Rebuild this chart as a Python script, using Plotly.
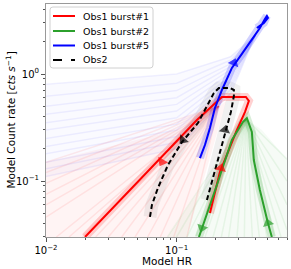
import plotly.graph_objects as go

# ---------------- data ----------------
# Obs1 burst#1 (red)
red_x = [0.1799, 0.2144, 0.2512, 0.2893, 0.3334, 0.3574, 0.3390, 0.2222, 0.1430, 0.0889, 0.0524, 0.0199]
red_y = [0.0502, 0.121, 0.195, 0.300, 0.441, 0.560, 0.610, 0.610, 0.372, 0.203, 0.102, 0.030]
# Obs1 burst#2 (green)
green_x = [0.5358, 0.500, 0.4339, 0.390, 0.3767, 0.345, 0.3216, 0.2649, 0.2034, 0.1563, 0.1482]
green_y = [0.030, 0.0405, 0.0824, 0.157, 0.287, 0.388, 0.356, 0.242, 0.0918, 0.0348, 0.030]
# Obs1 burst#5 (blue)
blue_x = [0.1508, 0.1647, 0.1799, 0.1964, 0.2222, 0.2649, 0.3160, 0.3767, 0.4339, 0.474, 0.4909, 0.500, 0.4656, 0.4115]
blue_y = [0.164, 0.217, 0.313, 0.481, 0.709, 1.14, 1.54, 2.08, 2.69, 3.27, 3.48, 3.34, 3.00, 2.69]
# Obs2 (black dashed)
obs2_x = [0.1706, 0.1895, 0.2144, 0.2385, 0.2603, 0.2744, 0.2744, 0.2557, 0.2107, 0.1929, 0.1455, 0.1098, 0.0858, 0.0719, 0.0647, 0.0625]
obs2_y = [0.0664, 0.1066, 0.175, 0.287, 0.441, 0.623, 0.709, 0.740, 0.740, 0.664, 0.348, 0.231, 0.141, 0.0860, 0.0597, 0.0461]

# direction arrows: (previous point, tip)
red_arrows = [((0.0889, 0.203), (0.0773, 0.151)), ((0.1799, 0.0502), (0.2182, 0.132))]
green_arrows = [((0.2034, 0.0918), (0.1563, 0.0364)), ((0.5358, 0.030), (0.500, 0.0405))]
blue_arrows = [((0.2649, 1.14), (0.2744, 1.27))]
obs2_arrows = [((0.2144, 0.175), (0.2343, 0.300)), ((0.1455, 0.348), (0.1117, 0.242))]

# faint sample tracks
blue_fan_x = [0.01, 0.1, 0.26, 0.40]
blue_fan_y = [
    [0.80, 1.00, 1.45, 2.3],
    [0.62, 0.82, 1.35, 2.3],
    [0.50, 0.70, 1.25, 2.3],
    [0.42, 0.60, 1.18, 2.3],
    [0.35, 0.52, 1.10, 2.3],
    [0.30, 0.45, 1.03, 2.3],
    [0.25, 0.39, 0.96, 2.3],
    [0.21, 0.34, 0.90, 2.3],
    [0.18, 0.30, 0.84, 2.3],
    [0.15, 0.26, 0.78, 2.3],
    [0.13, 0.23, 0.72, 2.3],
    [0.11, 0.20, 0.66, 2.3],
]
red_fan_start = (0.21, 0.50)
red_fan_end_x = [0.010, 0.010, 0.010, 0.010, 0.010, 0.010, 0.012, 0.015, 0.019, 0.024, 0.030, 0.038, 0.048, 0.060, 0.075, 0.095, 0.120]
red_fan_end_y = [0.150, 0.120, 0.095, 0.075, 0.060, 0.046, 0.030, 0.030, 0.030, 0.030, 0.030, 0.030, 0.030, 0.030, 0.030, 0.030, 0.030]
green_fan_start = (0.34, 0.38)
green_fan_end_x = [0.085, 0.10, 0.12, 0.14, 0.165, 0.19, 0.22, 0.25, 0.29, 0.33, 0.38, 0.43, 0.49, 0.56, 0.63, 0.70, 0.70, 0.70, 0.70]
green_fan_end_y = [0.030, 0.030, 0.030, 0.030, 0.030, 0.030, 0.030, 0.030, 0.030, 0.030, 0.030, 0.030, 0.030, 0.030, 0.030, 0.035, 0.060, 0.100, 0.160]

# haze envelopes of the sample clouds
blue_haze_x = [0.01, 0.10, 0.25, 0.40, 0.30, 0.18, 0.10, 0.01]
blue_haze_y = [0.80, 1.00, 1.45, 2.30, 0.95, 0.45, 0.20, 0.11]
red_haze_x = [0.01, 0.10, 0.20, 0.24, 0.16, 0.12, 0.01]
red_haze_y = [0.15, 0.30, 0.48, 0.56, 0.10, 0.03, 0.03]
green_haze_x = [0.085, 0.25, 0.34, 0.45, 0.70, 0.70]
green_haze_y = [0.030, 0.20, 0.38, 0.30, 0.16, 0.030]

# tick labels
x_tickvals = [0.01, 0.1]
x_ticktext = ["10<sup>−2</sup>", "10<sup>−1</sup>"]
y_tickvals = [0.1, 1]
y_ticktext = ["10<sup>−1</sup>", "10<sup>0</sup>"]
x_minor = [0.02, 0.03, 0.04, 0.05, 0.06, 0.07, 0.08, 0.09, 0.2, 0.3, 0.4, 0.5, 0.6, 0.7]
y_minor = [0.03, 0.04, 0.05, 0.06, 0.07, 0.08, 0.09, 0.2, 0.3, 0.4, 0.5, 0.6, 0.7, 0.8, 0.9, 2, 3, 4]

legend_labels = ["Obs1 burst#1", "Obs1 burst#2", "Obs1 burst#5", "Obs2"]

# ---------------- figure ----------------
RED, GREEN, BLUE, BLACK = "#ff0000", "#2ca02c", "#0000ff", "#000000"
RED_L, GREEN_L, BLUE_L = "rgba(255,0,0,0.08)", "rgba(44,160,44,0.08)", "rgba(0,0,255,0.06)"
FONT = "DejaVu Sans"

fig = go.Figure()

# haze
for hx, hy, c in [(blue_haze_x, blue_haze_y, "rgba(0,0,255,0.02)"),
                  (red_haze_x, red_haze_y, "rgba(255,0,0,0.045)"),
                  (green_haze_x, green_haze_y, "rgba(44,160,44,0.045)")]:
    fig.add_trace(go.Scatter(x=hx, y=hy, mode="lines", fill="toself", fillcolor=c, line=dict(width=0),
                             showlegend=False, hoverinfo="skip"))

# faint fans
for ys in blue_fan_y:
    fig.add_trace(go.Scatter(x=blue_fan_x, y=ys, mode="lines", line=dict(color=BLUE_L, width=1.5),
                             showlegend=False, hoverinfo="skip"))
for ex, ey in zip(red_fan_end_x, red_fan_end_y):
    fig.add_trace(go.Scatter(x=[red_fan_start[0], ex], y=[red_fan_start[1], ey], mode="lines",
                             line=dict(color=RED_L, width=1.5), showlegend=False, hoverinfo="skip"))
for ex, ey in zip(green_fan_end_x, green_fan_end_y):
    fig.add_trace(go.Scatter(x=[green_fan_start[0], ex], y=[green_fan_start[1], ey], mode="lines",
                             line=dict(color=GREEN_L, width=1.5), showlegend=False, hoverinfo="skip"))

# glows
for xs, ys, c, w in [(obs2_x, obs2_y, "rgba(0,0,0,0.06)", 13),
                     (red_x, red_y, "rgba(255,0,0,0.18)", 8), (green_x, green_y, "rgba(44,160,44,0.18)", 8),
                     (blue_x, blue_y, "rgba(0,0,255,0.18)", 8)]:
    fig.add_trace(go.Scatter(x=xs, y=ys, mode="lines", line=dict(color=c, width=w),
                             showlegend=False, hoverinfo="skip"))

# main tracks
fig.add_trace(go.Scatter(x=red_x, y=red_y, mode="lines", name=legend_labels[0], line=dict(color=RED, width=2)))
fig.add_trace(go.Scatter(x=green_x, y=green_y, mode="lines", name=legend_labels[1], line=dict(color=GREEN, width=2)))
fig.add_trace(go.Scatter(x=blue_x, y=blue_y, mode="lines", name=legend_labels[2], line=dict(color=BLUE, width=2)))
fig.add_trace(go.Scatter(x=obs2_x, y=obs2_y, mode="lines", name=legend_labels[3],
                         line=dict(color=BLACK, width=2, dash="5px,3px")))

# arrows
for arrows, c in [(red_arrows, RED), (green_arrows, GREEN), (blue_arrows, BLUE), (obs2_arrows, BLACK)]:
    for (p0, p1) in arrows:
        fig.add_trace(go.Scatter(x=[p0[0], p1[0]], y=[p0[1], p1[1]], mode="markers",
                                 marker=dict(symbol="triangle-up", size=[0, 10], color=c, angleref="previous",
                                             line=dict(width=0)),
                                 showlegend=False, hoverinfo="skip"))

# ---------- manual legend (matplotlib-like) ----------
PLOT_L, PLOT_R, PLOT_T, PLOT_B = 46, 287, 4, 237
def px(xp):
    return (xp - PLOT_L) / (PLOT_R - PLOT_L)
def py(yp):
    return (PLOT_B - yp) / (PLOT_B - PLOT_T)

bx0, bx1, by0, by1, r = px(50), px(153), py(68), py(7), 0.012
ry = r * (PLOT_R - PLOT_L) / (PLOT_B - PLOT_T)
path = (f"M {bx0+r},{by1} L {bx1-r},{by1} Q {bx1},{by1} {bx1},{by1-ry} L {bx1},{by0+ry} "
        f"Q {bx1},{by0} {bx1-r},{by0} L {bx0+r},{by0} Q {bx0},{by0} {bx0},{by0+ry} "
        f"L {bx0},{by1-ry} Q {bx0},{by1} {bx0+r},{by1} Z")
shapes = [dict(type="path", path=path, xref="paper", yref="paper", fillcolor="rgba(255,255,255,0.8)",
               line=dict(color="#d0d0d0", width=1), layer="above")]
annotations = []
entry_y = [16, 31, 45.5, 60]
for lab, c, ey, dash in zip(legend_labels, [RED, GREEN, BLUE, BLACK], entry_y,
                             ["solid", "solid", "solid", "dash"]):
    shapes.append(dict(type="line", xref="paper", yref="paper", x0=px(53), x1=px(75), y0=py(ey), y1=py(ey),
                       line=dict(color=c, width=2, dash=dash), layer="above"))
    annotations.append(dict(text=lab, xref="paper", yref="paper", x=px(81), y=py(ey), xanchor="left",
                            yanchor="middle", showarrow=False, font=dict(size=9.5, family=FONT, color="black")))

# axis titles
annotations.append(dict(text="Model HR", xref="paper", yref="paper", x=0.5, y=0, yanchor="middle",
                        yshift=-24, showarrow=False, font=dict(size=10.5, family=FONT, color="black")))
annotations.append(dict(text="Model Count rate [<i>cts s</i><sup>−1</sup>]", xref="paper", yref="paper",
                        x=0, y=0.5, xanchor="center", yanchor="middle", xshift=-36, textangle=-90,
                        showarrow=False, font=dict(size=10.5, family=FONT, color="black")))

fig.update_layout(
    width=291, height=269,
    margin=dict(l=PLOT_L, r=291 - PLOT_R, t=PLOT_T, b=269 - PLOT_B, autoexpand=False),
    paper_bgcolor="white", plot_bgcolor="white",
    font=dict(family=FONT, size=10, color="black"),
    showlegend=False,
    shapes=shapes, annotations=annotations,
)
fig.update_xaxes(type="log", range=[-2, -0.155], tickvals=x_tickvals, ticktext=x_ticktext, automargin=False,
                 showgrid=False, zeroline=False, showline=True, mirror=True, linecolor="#999999", linewidth=1,
                 ticks="outside", ticklen=4, tickcolor="#555555",
                 minor=dict(ticks="outside", ticklen=2, tickcolor="#555555", tickvals=x_minor, showgrid=False),
                 tickfont=dict(size=10))
fig.update_yaxes(type="log", range=[-1.523, 0.654], tickvals=y_tickvals, ticktext=y_ticktext, automargin=False,
                 showgrid=False, zeroline=False, showline=True, mirror=True, linecolor="#999999", linewidth=1,
                 ticks="outside", ticklen=4, tickcolor="#555555",
                 minor=dict(ticks="outside", ticklen=2, tickcolor="#555555", tickvals=y_minor, showgrid=False),
                 tickfont=dict(size=10))

fig.write_html("out.html", config={"displayModeBar": False},
               post_script="document.body.style.margin='0';")
